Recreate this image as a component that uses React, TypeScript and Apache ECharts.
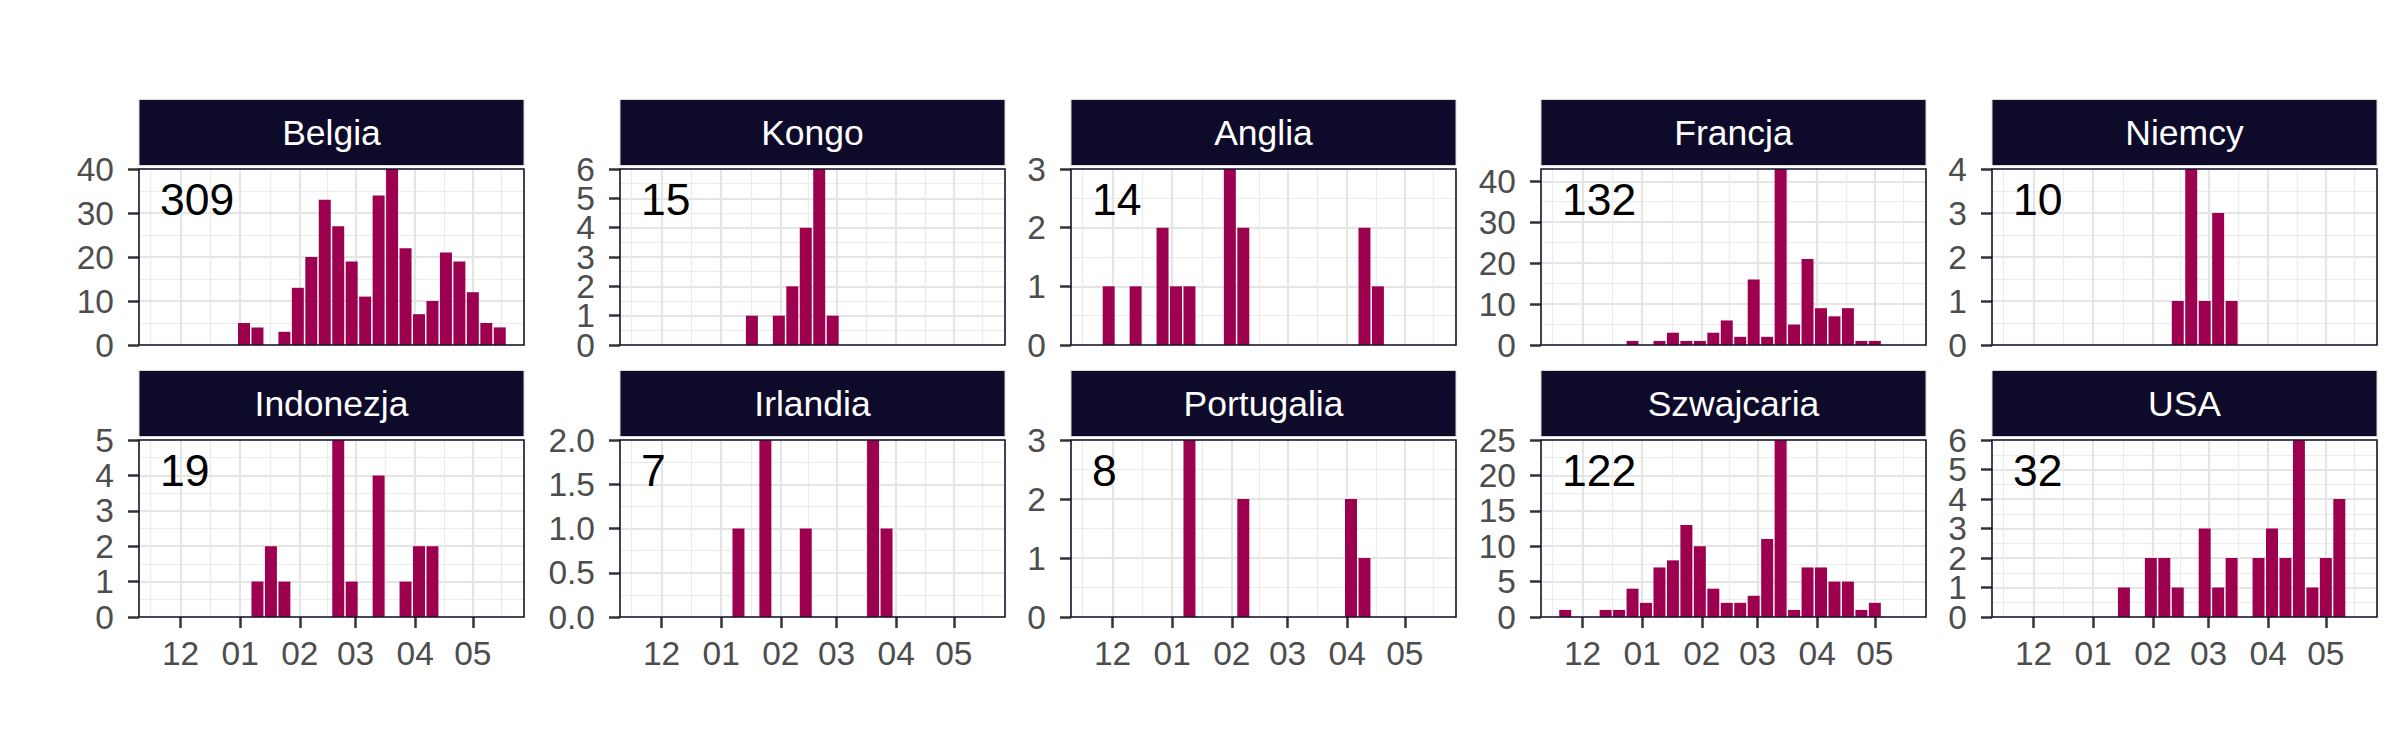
import React, { useEffect, useRef } from "react";
import * as echarts from "echarts";

// ---------- DATA ----------
const countries = ["Belgia", "Kongo", "Anglia", "Francja", "Niemcy", "Indonezja", "Irlandia", "Portugalia", "Szwajcaria", "USA"];

// weekly bins (bin centres)
const weekCenters = [
  "2019-11-22", "2019-11-29", "2019-12-06", "2019-12-13", "2019-12-20", "2019-12-27",
  "2020-01-03", "2020-01-10", "2020-01-17", "2020-01-24", "2020-01-31",
  "2020-02-07", "2020-02-14", "2020-02-21", "2020-02-28",
  "2020-03-06", "2020-03-13", "2020-03-20", "2020-03-27",
  "2020-04-03", "2020-04-10", "2020-04-17", "2020-04-24",
  "2020-05-01", "2020-05-08", "2020-05-15",
];

const belgia = [0, 0, 0, 0, 0, 0, 5, 4, 0, 3, 13, 20, 33, 27, 19, 11, 34, 40, 22, 7, 10, 21, 19, 12, 5, 4];
const kongo = [0, 0, 0, 0, 0, 0, 0, 0, 1, 0, 1, 2, 4, 6, 1, 0, 0, 0, 0, 0, 0, 0, 0, 0, 0, 0];
const anglia = [0, 1, 0, 1, 0, 2, 1, 1, 0, 0, 3, 2, 0, 0, 0, 0, 0, 0, 0, 0, 2, 1, 0, 0, 0, 0];
const francja = [0, 0, 0, 0, 0, 1, 0, 1, 3, 1, 1, 3, 6, 2, 16, 2, 43, 5, 21, 9, 7, 9, 1, 1, 0, 0];
const niemcy = [0, 0, 0, 0, 0, 0, 0, 0, 0, 0, 0, 0, 1, 4, 1, 3, 1, 0, 0, 0, 0, 0, 0, 0, 0, 0];
const indonezja = [0, 0, 0, 0, 0, 0, 0, 1, 2, 1, 0, 0, 0, 5, 1, 0, 4, 0, 1, 2, 2, 0, 0, 0, 0, 0];
const irlandia = [0, 0, 0, 0, 0, 0, 0, 1, 0, 2, 0, 0, 1, 0, 0, 0, 0, 2, 1, 0, 0, 0, 0, 0, 0, 0];
const portugalia = [0, 0, 0, 0, 0, 0, 0, 3, 0, 0, 0, 2, 0, 0, 0, 0, 0, 0, 0, 2, 1, 0, 0, 0, 0, 0];
const szwajcaria = [1, 0, 0, 1, 1, 4, 2, 7, 8, 13, 10, 4, 2, 2, 3, 11, 25, 1, 7, 7, 5, 5, 1, 2, 0, 0];
const usa = [0, 0, 0, 0, 0, 0, 0, 0, 1, 0, 2, 2, 1, 0, 3, 1, 2, 0, 2, 3, 2, 6, 1, 2, 4, 0];

// y tick labels per panel
const belgiaTicks = ["0", "10", "20", "30", "40"];
const kongoTicks = ["0", "1", "2", "3", "4", "5", "6"];
const angliaTicks = ["0", "1", "2", "3"];
const francjaTicks = ["0", "10", "20", "30", "40"];
const niemcyTicks = ["0", "1", "2", "3", "4"];
const indonezjaTicks = ["0", "1", "2", "3", "4", "5"];
const irlandiaTicks = ["0.0", "0.5", "1.0", "1.5", "2.0"];
const portugaliaTicks = ["0", "1", "2", "3"];
const szwajcariaTicks = ["0", "5", "10", "15", "20", "25"];
const usaTicks = ["0", "1", "2", "3", "4", "5", "6"];

// y-axis upper limits
const yMaxes = [40, 6, 3, 43, 4, 5, 2, 3, 25, 6];

// x-axis month ticks
const monthDates = ["2019-12-01", "2020-01-01", "2020-02-01", "2020-03-01", "2020-04-01", "2020-05-01"];
const monthLabels = ["12", "01", "02", "03", "04", "05"];

// ---------- STYLE / LAYOUT ----------
const FONT = "Liberation Sans, Arial, Helvetica, sans-serif";
const BAR = "#9D004F";
const STRIP = "#0E0A2A";
const GRID_MAJOR = "#E5E5E5";
const GRID_MINOR = "#EBEBEB";
const TICK = "#333333";
const LABEL = "#4D4D4D";
const PANEL_W = 385;
const COL_LEFT = [139, 620, 1071, 1541, 1992];
const ROW_TOP = [169, 440];
const ROW_H = [176, 177];
const STRIP_H = 66;
const STRIP_GAP = 3.5;
const AXIS_FS = 33.5;

const ORIGIN = Date.parse("2019-12-01");
const toDay = (d: string) => Math.round((Date.parse(d) - ORIGIN) / 86400000);

const seriesValues = [belgia, kongo, anglia, francja, niemcy, indonezja, irlandia, portugalia, szwajcaria, usa];
const tickLists = [belgiaTicks, kongoTicks, angliaTicks, francjaTicks, niemcyTicks, indonezjaTicks, irlandiaTicks, portugaliaTicks, szwajcariaTicks, usaTicks];

function yLabelStyle(values: number[], labels: string[], tickValues: number[]) {
  return {
    show: true,
    customValues: values,
    formatter: (v: number) => {
      const idx = tickValues.findIndex((t) => Math.abs(t - v) < 1e-9);
      return idx >= 0 ? labels[idx] : "";
    },
    fontSize: AXIS_FS,
    color: LABEL,
    fontFamily: FONT,
    margin: 25,
    showMinLabel: true,
    showMaxLabel: true,
    hideOverlap: false,
  };
}

function buildOption() {
  const weekX = weekCenters.map(toDay);
  const monthX = monthDates.map(toDay);
  // minor gridlines: midpoints between month breaks, extended one step on each side
  const minorX: number[] = [];
  minorX.push(monthX[0] - (monthX[1] - monthX[0]) / 2);
  for (let i = 0; i < monthX.length - 1; i++) minorX.push((monthX[i] + monthX[i + 1]) / 2);
  minorX.push(monthX[monthX.length - 1] + (monthX[monthX.length - 1] - monthX[monthX.length - 2]) / 2);

  // histogram range + 5% expansion
  const binStart = weekX[0] - 3.5;
  const binEnd = weekX[weekX.length - 1] + 3.5;
  const span = binEnd - binStart;
  const xMin = binStart - 0.05 * span;
  const xMax = binEnd + 0.05 * span;

  const grid: any[] = [];
  const xAxis: any[] = [];
  const yAxis: any[] = [];
  const series: any[] = [];
  const graphic: any[] = [];

  countries.forEach((name, i) => {
    const col = i % 5;
    const row = Math.floor(i / 5);
    const left = COL_LEFT[col];
    const top = ROW_TOP[row];
    const height = ROW_H[row];
    const bottomRow = row === 1;
    const labels = tickLists[i];
    const yTicks = labels.map((s) => parseFloat(s));
    const yMinor: number[] = [];
    for (let k = 0; k < yTicks.length - 1; k++) yMinor.push((yTicks[k] + yTicks[k + 1]) / 2);
    const step = yTicks[1] - yTicks[0];
    const extra = yTicks[yTicks.length - 1] + step / 2;
    if (extra <= yMaxes[i]) yMinor.push(extra);
    // split labels over two axes so that tightly packed labels are all kept
    const evenTicks = yTicks.filter((_, k) => k % 2 === 0);
    const oddTicks = yTicks.filter((_, k) => k % 2 === 1);

    grid.push({ left, top, width: PANEL_W, height, show: false, containLabel: false });

    xAxis.push({
      gridIndex: i,
      type: "value",
      position: "bottom",
      min: xMin,
      max: xMax,
      axisLine: { show: false, onZero: false },
      axisTick: { show: bottomRow, customValues: monthX, length: 11, lineStyle: { color: TICK, width: 2.5 } },
      axisLabel: {
        show: bottomRow,
        customValues: monthX,
        formatter: (v: number) => {
          const idx = monthX.indexOf(Math.round(v));
          return idx >= 0 ? monthLabels[idx] : "";
        },
        fontSize: AXIS_FS,
        color: LABEL,
        fontFamily: FONT,
        margin: 19,
        hideOverlap: false,
      },
      splitLine: { show: true, lineStyle: { color: GRID_MAJOR, width: 2.2 } },
    });
    xAxis.push({
      gridIndex: i,
      type: "value",
      position: "bottom",
      min: xMin,
      max: xMax,
      axisLine: { show: false, onZero: false },
      axisTick: { show: false, customValues: minorX },
      axisLabel: { show: false },
      splitLine: { show: true, lineStyle: { color: GRID_MINOR, width: 1.2 } },
    });

    yAxis.push({
      gridIndex: i,
      type: "value",
      position: "left",
      min: 0,
      max: yMaxes[i],
      axisLine: { show: false, onZero: false },
      axisTick: { show: true, customValues: yTicks, length: 11, lineStyle: { color: TICK, width: 2.5 } },
      axisLabel: yLabelStyle(evenTicks, labels, yTicks),
      splitLine: { show: true, lineStyle: { color: GRID_MAJOR, width: 2.2 } },
    });
    yAxis.push({
      gridIndex: i,
      type: "value",
      position: "left",
      min: 0,
      max: yMaxes[i],
      axisLine: { show: false, onZero: false },
      axisTick: { show: false, customValues: yMinor },
      axisLabel: oddTicks.length ? yLabelStyle(oddTicks, labels, yTicks) : { show: false },
      splitLine: { show: true, lineStyle: { color: GRID_MINOR, width: 1.2 } },
    });

    const vals = seriesValues[i];
    series.push({
      type: "bar",
      name,
      xAxisIndex: 2 * i,
      yAxisIndex: 2 * i,
      data: weekX.map((x, j) => [x, vals[j]]),
      barWidth: "89%",
      itemStyle: { color: BAR },
      silent: true,
      z: 2,
    });

    // strip
    const stripTop = top - STRIP_GAP - STRIP_H;
    graphic.push({
      type: "rect",
      z: 50,
      silent: true,
      shape: { x: left, y: stripTop, width: PANEL_W, height: STRIP_H },
      style: { fill: STRIP, stroke: "#D9D9D9", lineWidth: 1 },
    });
    graphic.push({
      type: "text",
      z: 51,
      silent: true,
      x: left + PANEL_W / 2,
      y: stripTop + STRIP_H / 2,
      style: { text: name, fill: "#FFFFFF", fontSize: 35.5, fontFamily: FONT, align: "center", verticalAlign: "middle" },
    });
    // panel border
    graphic.push({
      type: "rect",
      z: 50,
      silent: true,
      shape: { x: left, y: top, width: PANEL_W, height },
      style: { fill: null, stroke: "#16112F", lineWidth: 1.6 },
    });
    // total count
    const total = vals.reduce((a, b) => a + b, 0);
    graphic.push({
      type: "text",
      z: 52,
      silent: true,
      x: left + 21,
      y: top + 8,
      style: { text: String(total), fill: "#000000", fontSize: 44.5, fontFamily: FONT, align: "left", verticalAlign: "top" },
    });
  });

  return {
    animation: false,
    backgroundColor: "#FFFFFF",
    grid,
    xAxis,
    yAxis,
    series,
    graphic,
  };
}

export default function App() {
  const ref = useRef<HTMLDivElement>(null);
  useEffect(() => {
    if (!ref.current) return;
    const chart = echarts.init(ref.current, undefined, { renderer: "svg" });
    chart.setOption(buildOption() as any);
    return () => chart.dispose();
  }, []);
  return <div ref={ref} style={{ position: "absolute", left: 0, top: 0, width: 2400, height: 750 }} />;
}
